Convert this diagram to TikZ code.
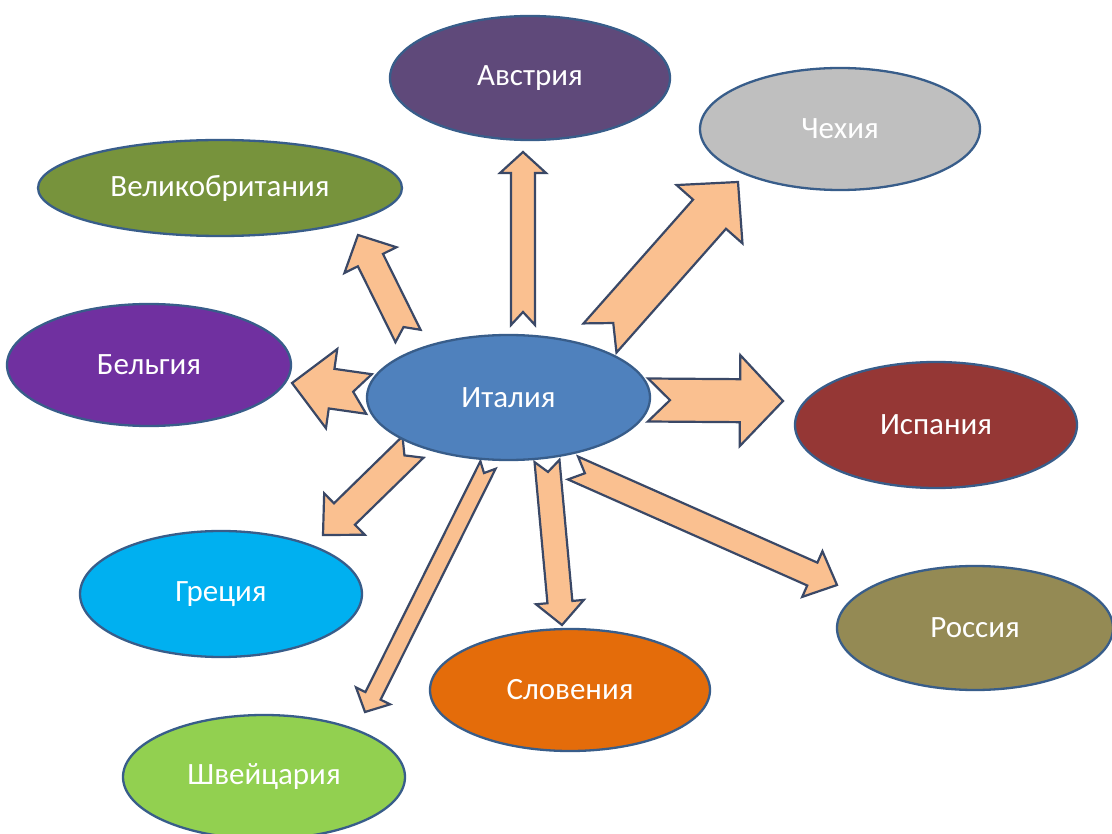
\documentclass[tikz,border=0pt]{standalone}
\usepackage{fontspec}
\setmainfont{Carlito}
\usetikzlibrary{shapes.geometric,calc}
\definecolor{edgeblue}{HTML}{385D8A}
\definecolor{arrfill}{HTML}{FAC090}
\definecolor{arredge}{HTML}{3A4866}
\definecolor{cAus}{HTML}{5F497A}
\definecolor{cCz}{HTML}{BFBFBF}
\definecolor{cUK}{HTML}{77933C}
\definecolor{cBel}{HTML}{7030A0}
\definecolor{cIta}{HTML}{4F81BD}
\definecolor{cEsp}{HTML}{953735}
\definecolor{cGre}{HTML}{00B0F0}
\definecolor{cRus}{HTML}{948A54}
\definecolor{cSlo}{HTML}{E46C0A}
\definecolor{cSwi}{HTML}{92D050}
\tikzset{
  country/.style={ellipse, draw=edgeblue, line width=2.3pt, inner sep=0pt,
    text=white, font=\fontsize{31}{36}\selectfont},
  blockarrow/.style={fill=arrfill, draw=arredge, line width=2.2pt, line join=miter}
}
% #1 tail, #2 tip, #3 shaft half width, #4 head half width, #5 head length, #6 notch depth
\newcommand\blockarr[6]{%
  \coordinate (hb) at ($(#2)!#5pt!(#1)$);
  \draw[blockarrow] ($(#1)!#3pt!90:(#2)$) -- ($(hb)!#3pt!90:(#2)$) -- ($(hb)!#4pt!90:(#2)$)
    -- (#2) -- ($(hb)!#4pt!-90:(#2)$) -- ($(hb)!#3pt!-90:(#2)$) -- ($(#1)!#3pt!-90:(#2)$)
    -- ($(#1)!#6pt!(#2)$) -- cycle;
}
\begin{document}
\begin{tikzpicture}[x=1pt,y=-1pt]
\useasboundingbox (0,0) rectangle (1112,834);
\clip (0,0) rectangle (1112,834);
\fill[white] (0,0) rectangle (1112,834);

\node[country, fill=cAus, minimum width=280pt, minimum height=124pt] (aus) at (530,78) {Австрия};
\node[country, fill=cCz, minimum width=280pt, minimum height=122pt] (cz) at (840,129) {Чехия};
\node[country, fill=cUK, minimum width=364pt, minimum height=96pt] (uk) at (220,188) {Великобритания};
\node[country, fill=cBel, minimum width=284pt, minimum height=122pt] (bel) at (149,365) {Бельгия};
\node[country, fill=cEsp, minimum width=282pt, minimum height=126pt] (esp) at (936,425) {Испания};
\node[country, fill=cGre, minimum width=282pt, minimum height=126pt] (gre) at (221,594) {Греция};
\node[country, fill=cRus, minimum width=276pt, minimum height=124pt] (rus) at (975,628) {Россия};
\node[country, fill=cSlo, minimum width=280pt, minimum height=122pt] (slo) at (570,690) {Словения};
\node[country, fill=cSwi, minimum width=282pt, minimum height=124pt] (swi) at (264,777) {Швейцария};

% arrow ends
\coordinate (tAus) at (523,325);  \coordinate (pAus) at (523,152);
\coordinate (tCz)  at (600,338);  \coordinate (pCz)  at (738,182);
\coordinate (tUK)  at (408,336);  \coordinate (pUK)  at (358,235);
\coordinate (tBel) at (369,394);  \coordinate (pBel) at (292,383);
\coordinate (tEsp) at (648,400);  \coordinate (pEsp) at (783,401);
\coordinate (tGre) at (413,447);  \coordinate (pGre) at (323,535);
\coordinate (tSwi) at (488,465);  \coordinate (pSwi) at (365,712);
\coordinate (tSlo) at (547,461);  \coordinate (pSlo) at (562,625);
\coordinate (tRus) at (573,468);  \coordinate (pRus) at (837,585);

\blockarr{tAus}{pAus}{12}{23}{21}{13}
\blockarr{tCz}{pCz}{22}{44}{43}{20}
\blockarr{tUK}{pUK}{14}{29}{28}{10}
\blockarr{tBel}{pBel}{20}{40}{40}{16}
\blockarr{tEsp}{pEsp}{21.5}{45.5}{43}{22}
\blockarr{tGre}{pGre}{15}{29}{30}{12}
\blockarr{tSwi}{pSwi}{8.5}{19}{18}{9}
\blockarr{tSlo}{pSlo}{12.5}{24}{23}{11}
\blockarr{tRus}{pRus}{12.5}{25}{27}{13}

\node[country, fill=cIta, minimum width=283pt, minimum height=125pt] (ita) at (508.5,397.5) {Италия};
\end{tikzpicture}
\end{document}
